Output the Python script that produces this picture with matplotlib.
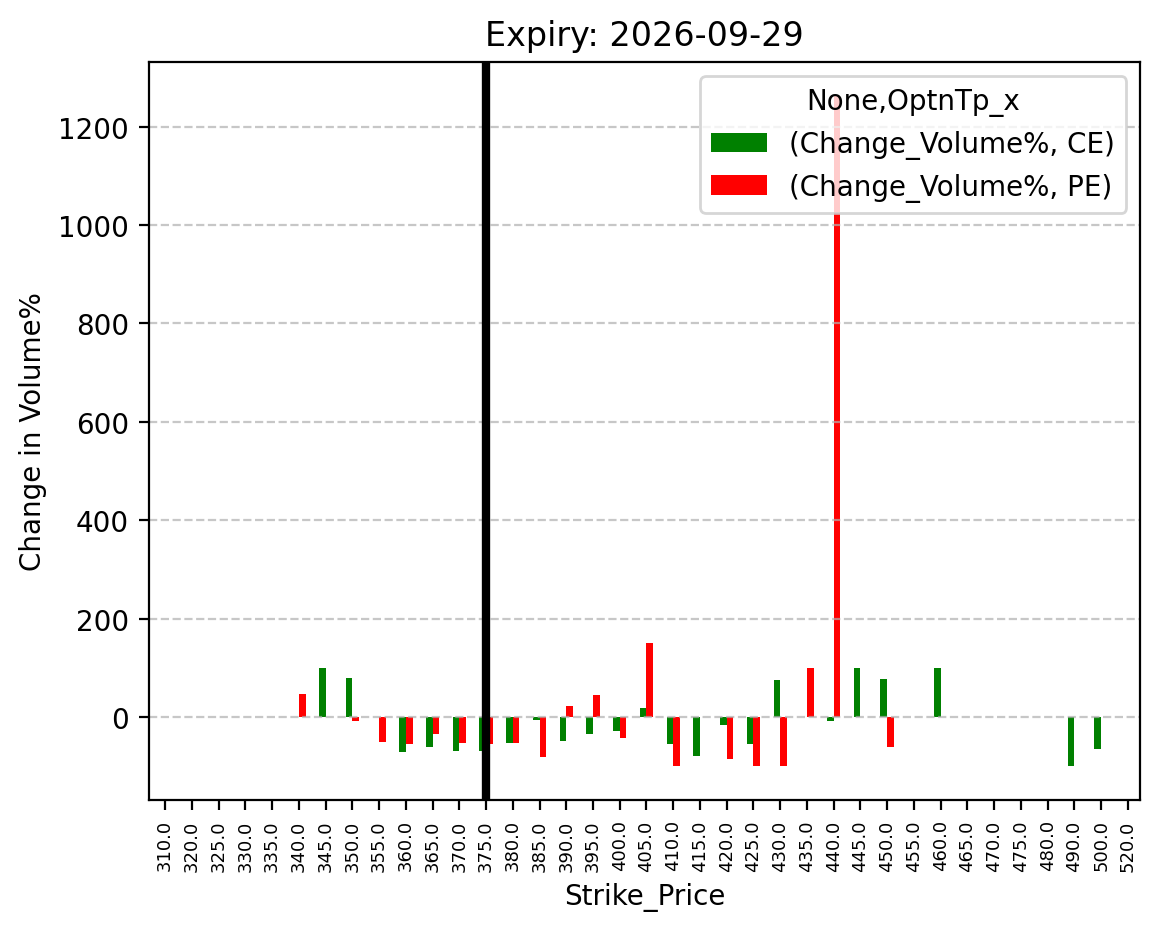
import numpy as np
import matplotlib
matplotlib.use('Agg')
import matplotlib.pyplot as plt

nan = np.nan

strikes = [310.0, 320.0, 325.0, 330.0, 335.0, 340.0, 345.0, 350.0, 355.0, 360.0,
           365.0, 370.0, 375.0, 380.0, 385.0, 390.0, 395.0, 400.0, 405.0, 410.0,
           415.0, 420.0, 425.0, 430.0, 435.0, 440.0, 445.0, 450.0, 455.0, 460.0,
           465.0, 470.0, 475.0, 480.0, 490.0, 500.0, 520.0]

ce_change = [nan, nan, nan, nan, nan, nan, 100, 79, nan, -71,
             -61, -69, -69, -53, -6, -49, -35, -29, 18, -55,
             -78, -16, -55, 75, nan, -8, 100, 77, nan, 100,
             nan, nan, nan, nan, -100, -65, nan]

pe_change = [nan, nan, nan, nan, nan, 46, nan, -8, -51, -55,
             -35, -53, -55, -53, -82, 22, 44, -43, 150, -100,
             nan, -86, -100, -100, 100, 1263, nan, -61, nan, nan,
             nan, nan, nan, nan, nan, nan, nan]

spot_strike = 375.0
expiry = '2026-09-29'

fig, ax = plt.subplots(figsize=(5.805, 4.64), dpi=200)
fig.subplots_adjust(left=0.128, right=0.982, top=0.932, bottom=0.137)

x = np.arange(len(strikes))
w = 0.25
ax.bar(x - w / 2, ce_change, width=w, color='green', label='(Change_Volume%, CE)')
ax.bar(x + w / 2, pe_change, width=w, color='red', label='(Change_Volume%, PE)')

ax.set_xticks(x)
ax.set_xticklabels([f'{s:.1f}' for s in strikes], rotation=90, fontsize=6.5)
ax.set_xlim(-0.62, len(strikes) - 0.54)

ax.axvline(strikes.index(spot_strike), color='black', linewidth=3)

ax.grid(axis='y', linestyle='--', alpha=0.7)
ax.set_title(f'Expiry: {expiry}')
ax.set_xlabel('Strike_Price')
ax.set_ylabel('Change in Volume%')
ax.legend(title='None,OptnTp_x', loc='upper right')

fig.savefig('out.png', dpi=200)
